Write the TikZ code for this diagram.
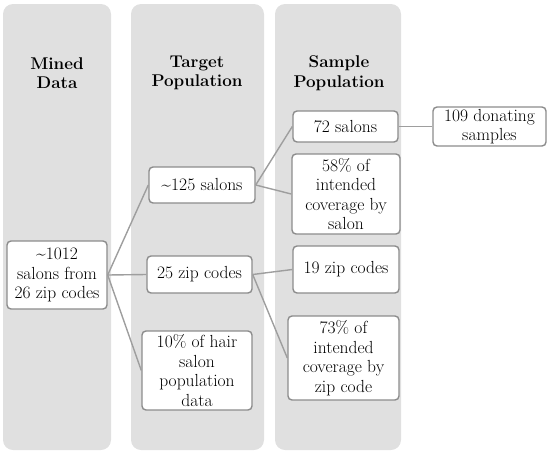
\documentclass[tikz,border=0pt]{standalone}
\usepackage{fontspec}
\begin{document}
\begin{tikzpicture}[x=1pt,y=-1pt,
  colbg/.style={fill=black!12, draw=none, rounded corners=10pt},
  head/.style={font=\rmfamily\fontsize{17}{19.5}\selectfont\bfseries, align=center, inner sep=0pt},
  box/.style={draw=black!45, line width=1.4pt, fill=white, rounded corners=4pt, align=center, inner sep=0pt,
    font=\rmfamily\fontsize{17.5}{19.5}\selectfont},
  conn/.style={draw=black!38, line width=1.4pt}]
\useasboundingbox (0,0) rectangle (550,456);
\fill[colbg] (3,4) rectangle (111,450);
\fill[colbg] (131,4) rectangle (264,450);
\fill[colbg] (275,4) rectangle (401,450);
\node[head] (h1) at (57,73) {Mined\\Data};
\node[head] (h2) at (197,73) {Target\\Population};
\node[head] (h3) at (339,73) {Sample\\Population};
\node[box, minimum width=100pt, minimum height=68pt] (a) at (57,275) {\textasciitilde1012\\salons from\\26 zip codes};
\node[box, minimum width=106pt, minimum height=36pt] (b) at (202,185) {\textasciitilde125 salons};
\node[box, minimum width=105pt, minimum height=37pt] (c) at (199.5,274.5) {25 zip codes};
\node[box, minimum width=110pt, minimum height=79pt] (d) at (197,370.5) {10\% of hair\\salon\\population\\data};
\node[box, minimum width=105pt, minimum height=31pt] (e) at (345.5,126.5) {72 salons};
\node[box, minimum width=108pt, minimum height=80pt] (f) at (346,194) {58\% of\\intended\\coverage by\\salon};
\node[box, minimum width=113pt, minimum height=39pt] (g) at (489.5,126.5) {109 donating\\samples};
\node[box, minimum width=106pt, minimum height=47pt] (h) at (346,269.5) {19 zip codes};
\node[box, minimum width=111pt, minimum height=84pt] (i) at (343.5,358) {73\% of\\intended\\coverage by\\zip code};
\draw[conn] (a.east) -- (b.west);
\draw[conn] (a.east) -- (c.west);
\draw[conn] (a.east) -- (d.west);
\draw[conn] (b.east) -- (e.west);
\draw[conn] (b.east) -- (f.west);
\draw[conn] (c.east) -- (h.west);
\draw[conn] (c.east) -- (i.west);
\draw[conn] (e.east) -- (g.west);
\end{tikzpicture}
\end{document}
